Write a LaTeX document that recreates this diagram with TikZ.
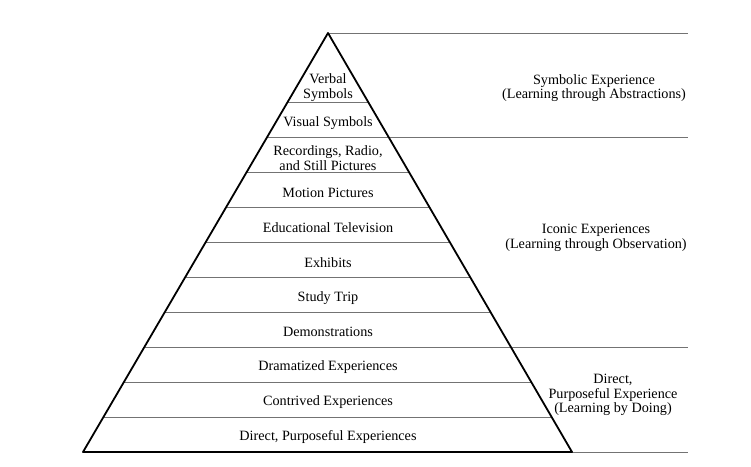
\documentclass[tikz,border=0pt]{standalone}
\usepackage{fontspec}
\setmainfont{Liberation Serif}
\usetikzlibrary{calc}
\begin{document}
\begin{tikzpicture}[x=1pt,y=-1pt,
  divider/.style={draw=black!55,line width=0.9pt},
  edge/.style={draw=black,line width=1.8pt,line cap=round,line join=round},
  lvl/.style={font=\fontsize{14.2}{14.4}\selectfont,align=center,inner sep=0pt},
  side/.style={font=\fontsize{14.2}{14.6}\selectfont,align=center,inner sep=0pt}]
\useasboundingbox (0,0) rectangle (751,466);
\coordinate (A) at (328,33);
\coordinate (L) at (83,452);
\coordinate (R) at (572,452);
\foreach \k in {2,...,11}{
  \coordinate (l\k) at ($(A)!\k/12!(L)$);
  \coordinate (r\k) at ($(A)!\k/12!(R)$);
  \draw[divider] (l\k) -- (r\k);
}
\coordinate (e0) at (688,33);
\coordinate (e3e) at (688,0 |- r3);
\coordinate (e9e) at (688,0 |- r9);
\coordinate (e12) at (688,452);
\draw[divider] (A) -- (e0);
\draw[divider] (r3) -- (e3e);
\draw[divider] (r9) -- (e9e);
\draw[divider] (R) -- (e12);
\draw[edge] (L) -- (A) -- (R) -- cycle;
% labels
\node[lvl] (n1) at (328,87.5) {Verbal\\Symbols};
\node[lvl] (n2) at (328,123) {Visual Symbols};
\node[lvl] (n3) at (328,158) {Recordings, Radio,\\and Still Pictures};
\node[lvl] (n4) at (328,193) {Motion Pictures};
\node[lvl] (n5) at (328,228) {Educational Television};
\node[lvl] (n6) at (328,263) {Exhibits};
\node[lvl] (n7) at (328,298) {Study Trip};
\node[lvl] (n8) at (328,332) {Demonstrations};
\node[lvl] (n9) at (328,367) {Dramatized Experiences};
\node[lvl] (n10) at (328,402) {Contrived Experiences};
\node[lvl] (n11) at (328,437) {Direct, Purposeful Experiences};
\node[side] (s1) at (594,88) {Symbolic Experience\\(Learning through Abstractions)};
\node[side] (s2) at (596,238) {Iconic Experiences\\(Learning through Observation)};
\node[side] (s3) at (613,395) {Direct,\\Purposeful Experience\\(Learning by Doing)};
\end{tikzpicture}
\end{document}
